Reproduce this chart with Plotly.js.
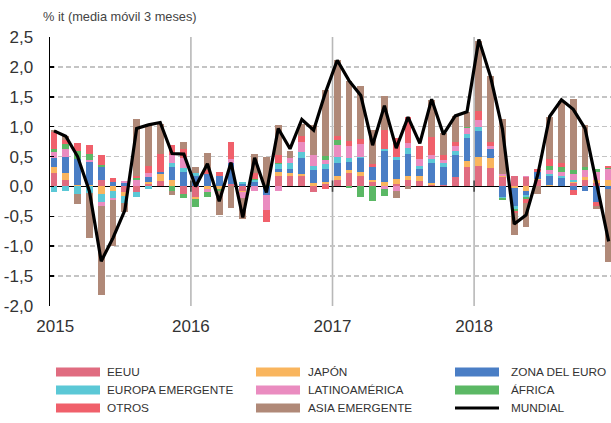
<!DOCTYPE html>
<html><head><meta charset="utf-8">
<script src="https://cdn.plot.ly/plotly-3.0.1.min.js"></script>
<style>html,body{margin:0;padding:0;background:#fff}</style>
</head><body><div id="chart" style="width:611px;height:423px"></div>
<script>
// Months 2015-01 .. 2018-12
const months = [];
for (let y = 2015; y <= 2018; y++) for (let m = 1; m <= 12; m++) months.push(y + '-' + String(m).padStart(2, '0'));
const yearLabels = ['2015', '2016', '2017', '2018'];
const yTickVals = [-2, -1.5, -1, -0.5, 0, 0.5, 1, 1.5, 2, 2.5];
const yTickText = ['-2,0', '-1,5', '-1,0', '-0,5', '0,0', '0,5', '1,0', '1,5', '2,0', '2,5'];

const seriesNames = ['EEUU', 'JAPÓN', 'ZONA DEL EURO', 'EUROPA EMERGENTE', 'LATINOAMÉRICA', 'ÁFRICA', 'OTROS', 'ASIA EMERGENTE'];
const seriesColors = ['#e06c80', '#f9b55e', '#4a7ec5', '#5bc8d6', '#ea8cc0', '#5bb865', '#f0606b', '#b08978'];

const eeuu = [0.23,0.10,0,0,0.10,0,-0.09,-0.10,0.04,0.09,0,-0.12,
              -0.17,0,0,0.04,-0.07,0,0,0.17,0.18,0.17,-0.09,0.04,
              0.10,0.22,0.18,0.07,0,0.04,0.10,0.09,0.02,0.03,0.16,0.32,
              0.35,0.31,0.15,0.18,0.15,0.10,0,0,0.06,0.10,0.05,0];
const japon = [0.10,0.12,0.03,0.02,-0.13,-0.08,-0.07,0,0.04,0.12,0.10,0,
               -0.04,-0.05,-0.04,0,-0.03,0,0,0.07,0.04,0.03,0.06,0.04,
               0.07,0.06,0.06,0.04,0.08,0.08,0.08,0.08,0.03,0,0,0.11,
               0.15,0.16,0.03,-0.03,-0.07,0.02,0.03,0,0.02,0.06,0.06,0.11];
const zonaEuro = [0.14,0.28,0.43,0.39,0.22,0.07,0.06,0,0.07,0.04,0.22,0.24,
                  0.17,0.21,0.17,0.36,0.04,0.07,-0.15,0.05,0.08,0.28,0.21,0.22,
                  0.22,0.13,0.23,0.21,0.51,0.32,0.37,0.12,0.35,0.29,0.36,0.38,
                  0.43,0.15,-0.17,-0.30,-0.08,0.12,0.14,0.14,-0.06,-0.08,-0.26,-0.04];
const europaEmerg = [-0.10,-0.08,-0.12,-0.11,-0.13,-0.12,-0.11,-0.07,-0.04,0,0.07,0.07,
                     0.06,0,0,0,0.03,0.03,0,0.08,0.10,0.09,0.08,0.07,
                     0.10,0.07,0.03,0,0.04,0.06,0.10,0.06,0.06,0.08,0.07,0.07,
                     0.06,0,-0.02,-0.05,-0.03,0,0.03,0.03,0.02,0,0,0];
const latam = [0.10,0.12,0,0.03,-0.07,-0.03,0.03,0.11,0.07,0,0.14,0.16,
               0,-0.05,0,0.06,-0.09,-0.08,-0.24,-0.07,0.07,0.17,0.18,0.07,
               0.21,0.20,0.21,0,-0.05,-0.07,0.08,0.11,0.07,0.04,0.08,0.10,
               0.12,0.06,0.03,0,0.03,0,0.07,0.08,0.11,0.12,0.13,0.18];
const africa = [0.05,0.09,0.13,0.11,0.04,0,0,0.03,0,0,-0.08,-0.07,
                -0.14,-0.07,-0.03,0,0,0.03,0.03,0.03,0,0,0,0.07,
                0.08,-0.02,-0.18,-0.25,-0.11,0,0,0,0,0,0,0.02,
                0,0,-0.03,-0.03,-0.03,0,0.08,0.08,0.07,0.04,0.06,0.02];
const otros = [0.29,0.06,0.14,0.15,0.17,0.07,0,0.03,0.13,0.30,0.16,0.15,
               0,0.07,0.07,0.28,0,0.09,-0.20,0.13,0,0.11,0,-0.04,
               0.06,0.08,0.09,0.06,0.32,0.31,0.44,0.22,0.30,0.09,0.08,0,
               0.16,0.07,0,-0.04,-0.07,0.06,0.11,0.07,-0.08,0,-0.06,0.03];
const asiaEmerg = [0.03,0.08,-0.18,-0.75,-1.48,-0.77,-0.16,0.95,0.70,0.50,-0.06,0.12,
                   0.10,0.28,-0.40,-0.36,-0.36,0.32,0.46,0.49,0.13,0.20,0.50,1.10,
                   1.27,1.01,0.88,0.56,0.56,-0.13,-0.05,0,0.62,0.36,0.43,0.24,
                   1.17,1.09,0.92,-0.36,-0.40,-0.12,0.71,1.03,1.18,0.70,-0.06,-1.22];
const mundial = [0.93,0.84,0.50,-0.08,-1.25,-0.86,-0.40,0.97,1.03,1.07,0.55,0.54,
                 0.00,0.38,-0.25,0.40,-0.52,0.48,-0.10,0.97,0.63,1.12,0.94,1.57,
                 2.11,1.77,1.52,0.69,1.35,0.64,1.16,0.72,1.46,0.87,1.18,1.25,
                 2.46,1.83,0.96,-0.63,-0.48,0.20,1.17,1.45,1.29,0.97,0.03,-0.92];

const seriesValues = [eeuu, japon, zonaEuro, europaEmerg, latam, africa, otros, asiaEmerg];
const xIdx = months.map((_, i) => i);

const traces = seriesValues.map((vals, k) => ({
  type: 'bar', x: xIdx, y: vals, name: seriesNames[k], width: 0.58,
  marker: { color: seriesColors[k], line: { width: 0 } }, showlegend: false,
  hoverinfo: 'skip'
}));
traces.push({
  type: 'scatter', mode: 'lines', x: xIdx, y: mundial, name: 'MUNDIAL',
  line: { color: '#000000', width: 3.2 }, showlegend: false, hoverinfo: 'skip'
});

// plot geometry (px)
const L = 50, T = 37, W = 561, H = 269;
const px2x = p => (p - L) / W;
const py2y = p => (T + H - p) / H;

const yearBounds = yearLabels.slice(1).map((_, k) => 12 * (k + 1) - 0.4);
const shapes = [];
yearBounds.forEach(b => {
  shapes.push({ type: 'line', xref: 'x', yref: 'paper', x0: b, x1: b, y0: 0, y1: 1,
    line: { color: '#b8b8b8', width: 1.6 }, layer: 'below' });
  shapes.push({ type: 'line', xref: 'x', yref: 'y', x0: b, x1: b, y0: -0.09, y1: 0.1,
    line: { color: '#444', width: 1.6 } });
});

// custom legend
const legendNames = seriesNames.concat(['MUNDIAL']);
const legendColors = seriesColors.concat(['#000000']);
const colX = [56, 256, 455], textX = [105, 306, 509], rowY = [372, 390, 408];
const annotations = [{
  text: '% it (media móvil 3 meses)', xref: 'paper', yref: 'paper',
  x: px2x(41), y: py2y(17), xanchor: 'left', yanchor: 'middle', showarrow: false,
  font: { size: 12.8, color: '#444', family: 'Liberation Sans, Arial, sans-serif' }
}];
legendNames.forEach((n, i) => {
  const c = i % 3, r = Math.floor(i / 3);
  if (n === 'MUNDIAL') {
    shapes.push({ type: 'line', xref: 'paper', yref: 'paper',
      x0: px2x(colX[c]), x1: px2x(colX[c] + 44), y0: py2y(rowY[r]), y1: py2y(rowY[r]),
      line: { color: legendColors[i], width: 3 } });
  } else {
    shapes.push({ type: 'rect', xref: 'paper', yref: 'paper',
      x0: px2x(colX[c]), x1: px2x(colX[c] + 44), y0: py2y(rowY[r] - 4.5), y1: py2y(rowY[r] + 4.5),
      fillcolor: legendColors[i], line: { width: 0 } });
  }
  annotations.push({ text: n, xref: 'paper', yref: 'paper', x: px2x(textX[c]), y: py2y(rowY[r]),
    xanchor: 'left', yanchor: 'middle', showarrow: false,
    font: { size: 11.8, color: '#333', family: 'Liberation Sans, Arial, sans-serif' } });
});

const layout = {
  width: 611, height: 423,
  margin: { l: L, r: 611 - L - W, t: T, b: 423 - T - H, pad: 0 },
  barmode: 'relative', bargap: 0,
  paper_bgcolor: '#ffffff', plot_bgcolor: '#ffffff',
  font: { family: 'Liberation Sans, Arial, sans-serif', color: '#333' },
  xaxis: {
    range: [-0.34, 47.2], showgrid: false, zeroline: false, showline: false,
    tickvals: [0.1].concat(yearBounds), ticktext: yearLabels, ticks: '',
    tickfont: { size: 17, color: '#333' }, ticklabelstandoff: 8, fixedrange: true
  },
  yaxis: {
    range: [-2, 2.5], tickvals: yTickVals, ticktext: yTickText,
    showgrid: true, gridcolor: '#c4c4c4', gridwidth: 1.5, griddash: '5px,3px',
    zeroline: true, zerolinecolor: '#000000', zerolinewidth: 1.5,
    showline: true, linecolor: '#000000', linewidth: 1.5,
    ticks: 'inside', ticklen: 4, tickcolor: '#000000', tickwidth: 1.5,
    tickfont: { size: 17, color: '#333' }, ticklabelstandoff: 12, fixedrange: true
  },
  shapes: shapes,
  annotations: annotations
};

Plotly.newPlot('chart', traces, layout, { staticPlot: true, displayModeBar: false });
</script>
</body></html>
